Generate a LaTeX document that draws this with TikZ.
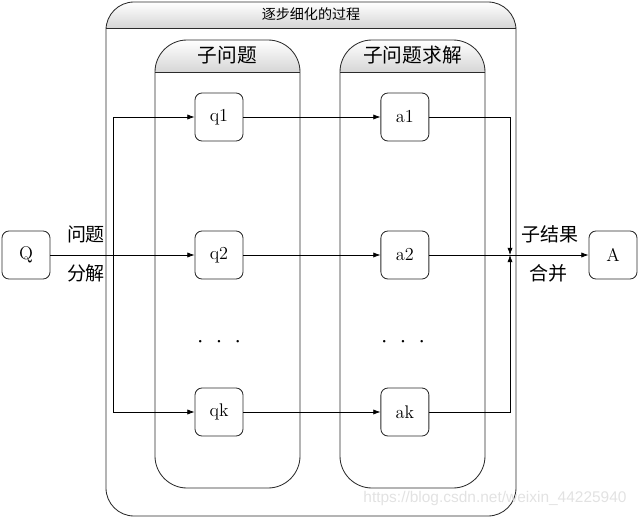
\documentclass[tikz,border=0pt]{standalone}
\usepackage{fontspec}
\usepackage{xcolor}
\usepackage{tikz}
\usetikzlibrary{positioning,arrows.meta}
\newfontfamily\cjk{Noto Sans CJK SC}
\newfontfamily\marksans{Liberation Sans}
\definecolor{stepLine}{HTML}{2B2B2B}
\definecolor{stepHead}{HTML}{D6D6D6}
\definecolor{stepMark}{HTML}{E2E2E2}

\begin{document}
\begin{tikzpicture}[x=0.025cm,y=-0.025cm,
      item/.style={draw=stepLine,rounded corners=5pt,minimum width=1.2cm,minimum height=1.2cm,
        inner sep=0pt,line width=0.6pt,font=\fontsize{13}{15}\selectfont},
      frame/.style={draw=stepLine,line width=0.6pt},
      head/.style={top color=white,bottom color=stepHead},
      note/.style={font=\cjk\fontsize{13.5}{15}\selectfont},
      dots/.style={font=\fontsize{6}{6}\selectfont,inner sep=0pt},
      flow/.style={-{Latex[length=1.8mm,width=1.3mm]},line width=0.5pt,draw=black}]
    \useasboundingbox (0,0) rectangle (640,520);
    % outer frame
    \begin{scope}
      \clip[rounded corners=0.7cm] (106,2) rectangle (516,516);
      \shade[head] (106,2) rectangle (516,28);
    \end{scope}
    \draw[frame,rounded corners=0.7cm] (106,2) rectangle (516,516);
    \draw[frame] (106,28) -- (516,28);
    \node[font=\cjk\fontsize{10}{12}\selectfont] (title) at (311,14) {逐步细化的过程};
    % two columns
    \foreach \bx/\btitle in {155/子问题,340/子问题求解}{
      \begin{scope}
        \clip[rounded corners=0.8cm] (\bx,40) rectangle ++(145,448);
        \shade[head] (\bx,40) rectangle ++(145,32);
      \end{scope}
      \draw[frame,rounded corners=0.8cm] (\bx,40) rectangle ++(145,448);
      \draw[frame] (\bx,72) -- ++(145,0);
      \node[font=\cjk\fontsize{14}{16}\selectfont] (col\bx) at (\bx+72.5,55) {\btitle};
    }
    \node[item] (Q) at (26,255) {Q};
    \node[item] (q1) at (219,117) {q1};
    \node[item] (q2) at (219,255) {q2};
    \node[item] (qk) at (219,412) {qk};
    \node[item,right=3.425cm of q1] (a1) {a1};
    \node[item,right=3.425cm of q2] (a2) {a2};
    \node[item,right=3.425cm of qk] (ak) {ak};
    \node[item] (A) at (613,255) {A};
    \node[dots] (qdots) at (219,342) {\textbullet\hspace{7.7pt}\textbullet\hspace{7.7pt}\textbullet};
    \node[dots] (adots) at (403,342) {\textbullet\hspace{7.7pt}\textbullet\hspace{7.7pt}\textbullet};
    \coordinate (split) at (113,255);
    \coordinate (merge) at (510,255);
    \draw[flow] (Q) -- (q2);
    \draw[flow] (split) |- (q1);
    \draw[flow] (split) |- (qk);
    \draw[flow] (q1) -- (a1);
    \draw[flow] (q2) -- (a2);
    \draw[flow] (qk) -- (ak);
    \draw[flow] (a1) -| (merge);
    \draw[flow] (ak) -| (merge);
    \draw[flow] (a2) -- (A);
    \node[note] (ask) at (86,234) {问题};
    \node[note] (cut) at (86,273) {分解};
    \node[note] (part) at (550,234) {子结果};
    \node[note] (join) at (548,273) {合并};
    \node[text=stepMark,font=\marksans\fontsize{11}{13}\selectfont] (mark) at (495,498) {https://blog.csdn.net/weixin\_44225940};
  \end{tikzpicture}
\end{document}
